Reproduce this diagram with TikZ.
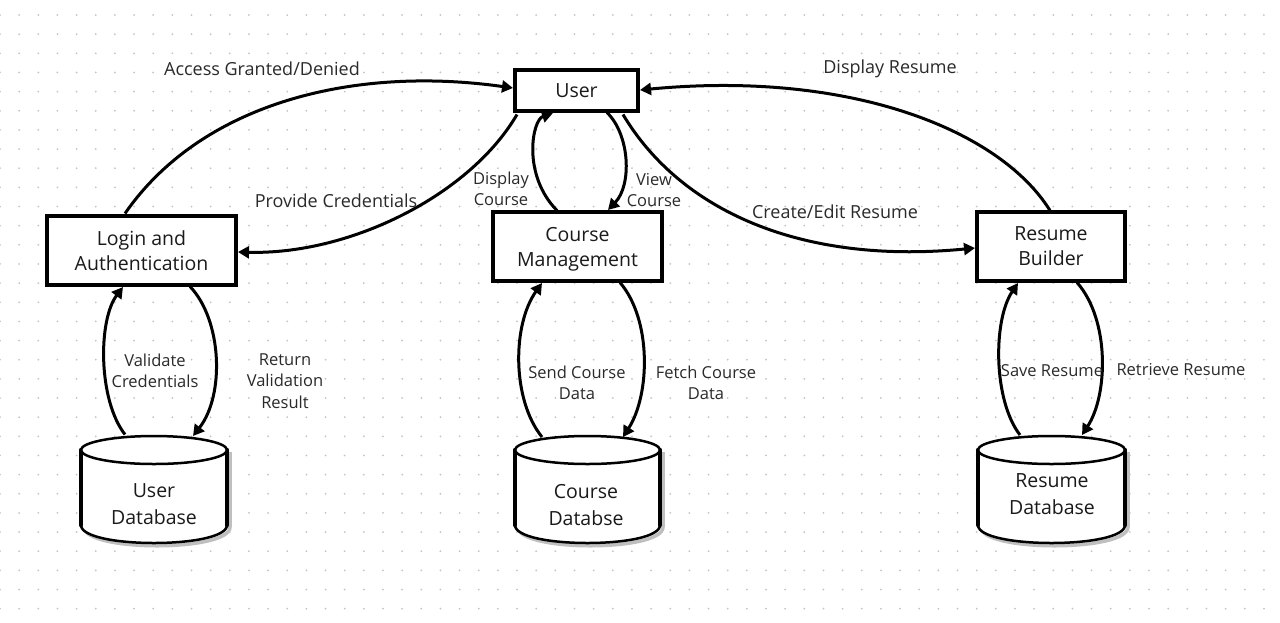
\documentclass[tikz,border=0pt]{standalone}
\usepackage{fontspec}
\setmainfont{Open Sans}
\usetikzlibrary{arrows.meta,calc}
\definecolor{dotgray}{HTML}{C4C4C4}
\definecolor{ink}{HTML}{1A1A1A}
\definecolor{lblink}{HTML}{2A2A2A}
\begin{document}
\begin{tikzpicture}[x=1pt,y=-1pt,
  box/.style={draw=black, line width=4pt, fill=white, inner sep=0pt, align=center, text=ink, font=\fontsize{19.5}{25}\selectfont},
  flow/.style={line width=3pt, -{Triangle[length=11pt,width=12pt]}},
  lbl/.style={font=\fontsize{18}{22}\selectfont, text=lblink, align=center, inner sep=0pt},
  slbl/.style={font=\fontsize{16.5}{21.5}\selectfont, text=lblink, align=center, inner sep=0pt},
  dbtext/.style={font=\fontsize{19.5}{27}\selectfont, text=ink, align=center, inner sep=0pt},
  cylside/.style={line width=4.5pt, line cap=round},
  cylrim/.style={line width=2.5pt}]
\fill[white] (0,0) rectangle (1280,622);
\useasboundingbox (0,0) rectangle (1280,622);
% dotted grid
\foreach \i in {0,...,66} {
  \foreach \j in {0,...,31} {
    \fill[dotgray] (\i*19.15, 15+\j*19.15) circle[radius=1pt];
  }
}
% cylinders
\foreach \cx/\rx in {154/73, 587.5/72.5, 1051.5/73.5} {
  \draw[black!25, line width=3.5pt] (\cx+\rx+3,452) -- (\cx+\rx+3,527) .. controls (\cx+\rx+3,552) and (\cx-\rx+3,552) .. (\cx-\rx+3,527);
  \fill[white] (\cx-\rx,450) -- (\cx-\rx,525) .. controls (\cx-\rx,549) and (\cx+\rx,549) .. (\cx+\rx,525) -- (\cx+\rx,450) -- cycle;
  \draw[cylrim] (\cx-\rx,525) .. controls (\cx-\rx,549) and (\cx+\rx,549) .. (\cx+\rx,525);
  \draw[cylside] (\cx-\rx,450) -- (\cx-\rx,525);
  \draw[cylside] (\cx+\rx,450) -- (\cx+\rx,525);
  \draw[cylrim, fill=white] (\cx,450) ellipse[x radius=\rx pt, y radius=14pt];
}
\node[dbtext] (udb) at (154,504.5) {User\\Database};
\node[dbtext] (cdb) at (586,505) {Course\\Databse};
\node[dbtext] (rdb) at (1052,494.5) {Resume\\Database};
% process boxes
\node[box, minimum width=123pt, minimum height=41pt] (user) at (576.5,90.5) {User};
\node[box, minimum width=189pt, minimum height=69pt] (login) at (141.5,250.5) {Login and\\Authentication};
\node[box, minimum width=169pt, minimum height=69pt] (course) at (577.5,246.5) {Course\\\raisebox{0pt}[\height][0pt]{Management}};
\node[box, minimum width=148pt, minimum height=69pt] (resume) at (1051,246.5) {Resume\\Builder};
% flows
\draw[flow] ($(login.center)+(-16.5,-37)$) .. controls (200,105) and (350,65) .. ($(user.center)+(-63.5,-2.5)$);
\draw[flow] ($(user.center)+(-59.5,24)$) .. controls (470,195) and (350,255) .. ($(login.center)+(96.5,1.5)$);
\draw[flow] ($(course.center)+(-20.5,-36)$) .. controls (522,175) and (532,120) .. ($(user.center)+(-23.5,22.5)$);
\draw[flow] ($(user.center)+(30.5,22)$) .. controls (630,135) and (632,185) .. ($(course.center)+(30.5,-36.5)$);
\draw[flow] ($(user.center)+(46.5,24)$) .. controls (680,210) and (800,265) .. ($(resume.center)+(-76,1.5)$);
\draw[flow] ($(resume.center)+(-1,-36)$) .. controls (1000,130) and (850,70) .. ($(user.center)+(63.5,-0.5)$);
\draw[flow] ($(udb.center)+(-29,-70)$) .. controls (98,400) and (98,320) .. ($(login.center)+(-18.5,36.5)$);
\draw[flow] ($(login.center)+(48.5,36)$) .. controls (222,320) and (225,395) .. ($(udb.center)+(39,-68.5)$);
\draw[flow] ($(cdb.center)+(-44,-68)$) .. controls (512,400) and (512,325) .. ($(course.center)+(-35.5,36.5)$);
\draw[flow] ($(course.center)+(42.5,36)$) .. controls (652,320) and (650,395) .. ($(cdb.center)+(37,-68)$);
\draw[flow] ($(rdb.center)+(-32,-59.5)$) .. controls (993,400) and (993,320) .. ($(resume.center)+(-33,36.5)$);
\draw[flow] ($(resume.center)+(26,36)$) .. controls (1110,320) and (1108,395) .. ($(rdb.center)+(30,-59.5)$);
% labels
\node[lbl] (l1) at (262,69) {Access Granted/Denied};
\node[lbl] (l2) at (336,201) {Provide Credentials};
\node[lbl] (l3) at (835,212) {Create/Edit Resume};
\node[lbl] (l4) at (890,69) {Display Resume};
\node[slbl] (l5) at (501,189) {Display\\Course};
\node[slbl] (l6) at (654,190) {View\\Course};
\node[slbl] (l7) at (155,371) {Validate\\Credentials};
\node[slbl] (l8) at (285,381) {Return\\Validation\\Result};
\node[slbl] (l9) at (577,383) {Send Course\\Data};
\node[slbl] (l10) at (706,383) {Fetch Course\\Data};
\node[slbl] (l11) at (1052,371) {Save Resume};
\node[slbl] (l12) at (1181,370) {Retrieve Resume};
\end{tikzpicture}
\end{document}
